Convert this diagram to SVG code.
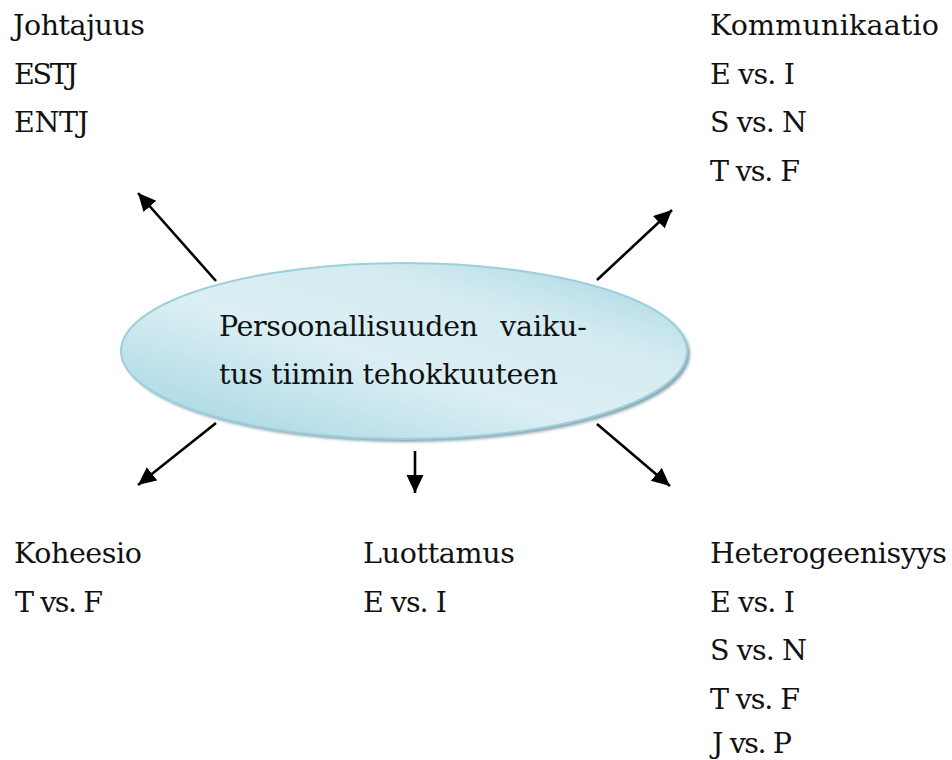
<svg xmlns="http://www.w3.org/2000/svg" width="952" height="760" viewBox="0 0 952 760">
  <defs>
    <style>
      .t { font-family: "DejaVu Serif", "Liberation Serif", serif; font-size: 28.5px; fill: #111; }
      .arr { stroke: #000; stroke-width: 2.6; fill: none; marker-end: url(#ah); }
    </style>
    <marker id="ah" markerUnits="userSpaceOnUse" markerWidth="22" markerHeight="20" refX="18" refY="8.5" orient="auto">
      <path d="M0,0 L18,8.5 L0,17 Z" fill="#000"/>
    </marker>
    <linearGradient id="fillg" x1="0" y1="1" x2="1" y2="0">
      <stop offset="0" stop-color="#9ed3df"/>
      <stop offset="0.45" stop-color="#dbeff4"/>
      <stop offset="0.7" stop-color="#d4ecf1"/>
      <stop offset="1" stop-color="#a3d4df"/>
    </linearGradient>
    <filter id="blur" x="-10%" y="-10%" width="120%" height="130%">
      <feGaussianBlur stdDeviation="1.5"/>
    </filter>
  </defs>

  <g id="center">
    <ellipse cx="407" cy="354" rx="283" ry="88" fill="#8aa4b0" filter="url(#blur)"/>
    <ellipse cx="404" cy="351" rx="283" ry="88" fill="url(#fillg)" stroke="#9ccfdc" stroke-width="2"/>
    <text class="t" y="336"><tspan x="219" textLength="259">Persoonallisuuden</tspan> <tspan x="500" textLength="87">vaiku-</tspan></text>
    <text class="t" x="219" y="384" textLength="339">tus tiimin tehokkuuteen</text>
  </g>

  <g id="connectors">
    <line class="arr" x1="216" y1="281" x2="138" y2="193"/>
    <line class="arr" x1="597" y1="280" x2="672" y2="210"/>
    <line class="arr" x1="216" y1="423" x2="138" y2="485"/>
    <line class="arr" x1="415" y1="451" x2="415" y2="493"/>
    <line class="arr" x1="597" y1="424" x2="670" y2="486"/>
  </g>

  <g id="johtajuus">
    <text class="t" x="13" y="35" textLength="132">Johtajuus</text>
    <text class="t" x="14" y="84" textLength="64">ESTJ</text>
    <text class="t" x="14" y="132" textLength="75">ENTJ</text>
  </g>

  <g id="kommunikaatio">
    <text class="t" x="710" y="35" textLength="229">Kommunikaatio</text>
    <text class="t" x="710" y="84" textLength="85">E vs. I</text>
    <text class="t" x="710" y="132" textLength="97">S vs. N</text>
    <text class="t" x="710" y="181" textLength="90">T vs. F</text>
  </g>

  <g id="koheesio">
    <text class="t" x="14" y="563" textLength="128">Koheesio</text>
    <text class="t" x="15" y="612" textLength="88">T vs. F</text>
  </g>

  <g id="luottamus">
    <text class="t" x="363" y="563" textLength="152">Luottamus</text>
    <text class="t" x="363" y="612" textLength="84">E vs. I</text>
  </g>

  <g id="heterogeenisyys">
    <text class="t" x="710" y="563" textLength="237">Heterogeenisyys</text>
    <text class="t" x="710" y="612" textLength="85">E vs. I</text>
    <text class="t" x="710" y="660" textLength="97">S vs. N</text>
    <text class="t" x="710" y="709" textLength="90">T vs. F</text>
    <text class="t" x="712" y="753" textLength="80">J vs. P</text>
  </g>
</svg>
